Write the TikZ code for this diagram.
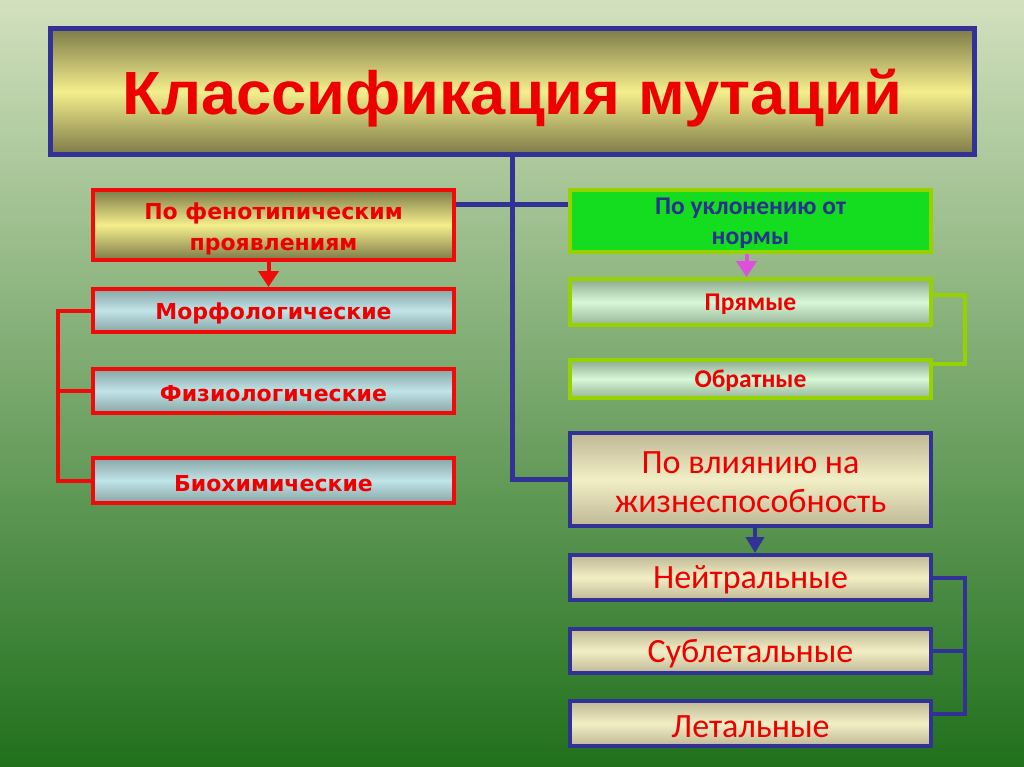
\documentclass[tikz,border=0pt]{standalone}
\usepackage{fontspec}
\setmainfont{Liberation Sans}
\newfontfamily\dejavu{DejaVu Sans}
\newfontfamily\carl{Carlito}
\usetikzlibrary{arrows.meta}
\definecolor{bluel}{RGB}{50,50,150}
\definecolor{redl}{RGB}{240,10,10}
\definecolor{greenl}{RGB}{150,210,0}
\definecolor{txtred}{RGB}{238,0,0}
\definecolor{txtblue}{RGB}{40,50,140}
\definecolor{olive}{RGB}{125,122,72}
\definecolor{yel}{RGB}{244,238,140}
\definecolor{bg1}{RGB}{210,224,190}
\definecolor{bg2}{RGB}{160,188,112}
\definecolor{bg3}{RGB}{32,112,28}
\tikzset{
  box/.style={rectangle, minimum width=361pt, inner sep=0pt, align=center},
  olivebox/.style={box, top color=olive, bottom color=olive, middle color=yel},
  bluebox/.style={box, draw=redl, line width=4pt, top color={rgb,255:red,135;green,165;blue,165}, bottom color={rgb,255:red,135;green,165;blue,165}, middle color={rgb,255:red,192;green,228;blue,232}},
  palebox/.style={box, draw=greenl, line width=4pt, top color={rgb,255:red,140;green,170;blue,140}, bottom color={rgb,255:red,150;green,180;blue,150}, middle color={rgb,255:red,215;green,248;blue,215}},
  creambox/.style={box, draw=bluel, line width=4pt, top color={rgb,255:red,190;green,184;blue,150}, bottom color={rgb,255:red,190;green,184;blue,150}, middle color={rgb,255:red,242;green,238;blue,196}},
  ltxt/.style={font=\dejavu\bfseries\fontsize{22}{31}\selectfont, text=txtred},
  rtxt/.style={font=\carl\fontsize{34}{39}\selectfont, text=txtred},
  gtxt/.style={font=\carl\bfseries\fontsize{25.5}{30}\selectfont},
  bline/.style={draw=bluel, line width=5pt},
  rline/.style={draw=redl, line width=4pt},
  gline/.style={draw=greenl, line width=4pt},
}
\begin{document}
\begin{tikzpicture}[x=1pt,y=-1pt]
\useasboundingbox (0,0) rectangle (1024,767);
\shade[top color=bg1, middle color=bg2, bottom color=bg3] (0,0) rectangle (1024,767);

% title
\node[olivebox, draw=bluel, line width=5pt, minimum width=924pt, minimum height=126pt] (title) at (512.5,91.5)
  {\raisebox{-23pt}[0pt][0pt]{\resizebox{780pt}{\height}{\fontsize{61}{70}\selectfont\bfseries\color{txtred}Классификация мутаций}}};

% left column
\node[olivebox, draw=redl, line width=4pt, minimum height=70pt, ltxt] (phen) at (273.5,225) {\rule{0pt}{24pt}По фенотипическим\\проявлениям};
\node[bluebox, minimum height=43pt, ltxt] (morph) at (273.5,310.5) {\rule{0pt}{22pt}Морфологические};
\node[bluebox, minimum height=44pt, ltxt] (fiz) at (273.5,391) {\rule{0pt}{22pt}Физиологические};
\node[bluebox, minimum height=45pt, ltxt] (bio) at (273.5,480.5) {\rule{0pt}{22pt}Биохимические};

% right column
\node[box, draw=greenl, line width=4pt, fill={rgb,255:red,20;green,220;blue,30}, minimum height=62pt, gtxt, text=txtblue] (norm) at (750.5,221) {\rule{0pt}{22pt}По уклонению от\\нормы};
\node[palebox, minimum height=46pt, gtxt, text=txtred] (pryam) at (750.5,302) {\rule{0pt}{22pt}Прямые};
\node[palebox, minimum height=38pt, gtxt, text=txtred] (obr) at (750.5,379) {\rule{0pt}{22pt}Обратные};
\node[creambox, minimum height=93pt, rtxt] (vl) at (750.5,479.5) {\rule{0pt}{28pt}По влиянию на\\жизнеспособность};
\node[creambox, minimum height=45pt, rtxt] (neit) at (750.5,577.5) {\rule{0pt}{28pt}Нейтральные};
\node[creambox, minimum height=44pt, rtxt] (sub) at (750.5,651) {\rule{0pt}{28pt}Сублетальные};
\node[creambox, minimum height=45pt, rtxt] (let) at (750.5,723.5) {\rule{0pt}{28pt}Летальные};

% connectors
\coordinate (hy) at (0,205);
\coordinate (lb) at (58,0);
\coordinate (rb) at (965,0);
\draw[bline] (title.south) |- (vl.west);
\draw[bline] (phen.east |- hy) -- (norm.west |- hy);

\draw[rline] (morph.west) -| (lb |- bio.west) -- (bio.west);
\draw[rline] (fiz.west) -- (fiz.west -| lb);

\draw[gline] ([yshift=7pt]pryam.east) -| ([yshift=15pt]rb |- obr.east) -- ([yshift=15pt]obr.east);

\draw[bline, line width=4pt] (neit.east) -| ([yshift=10pt]rb |- let.east) -- ([yshift=10pt]let.east);
\draw[bline, line width=4pt] (sub.east) -- (sub.east -| rb);

% arrows
\draw[draw=redl, line width=4pt, -{Triangle[width=20pt,length=16pt]}] ([xshift=-5pt]phen.south) -- ([xshift=-5pt]morph.north);
\draw[draw={rgb,255:red,220;green,80;blue,220}, line width=4pt, -{Triangle[width=20pt,length=16pt]}] ([xshift=-4pt]norm.south) -- ([xshift=-4pt]pryam.north);
\draw[draw=bluel, line width=4pt, -{Triangle[width=18pt,length=16pt]}] ([xshift=4.5pt]vl.south) -- ([xshift=4.5pt]neit.north);
\end{tikzpicture}
\end{document}
